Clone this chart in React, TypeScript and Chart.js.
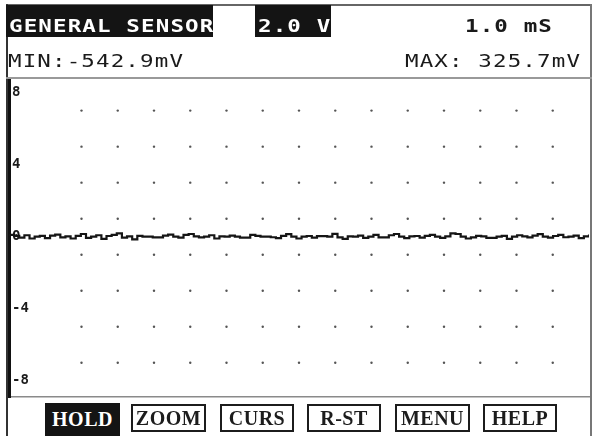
import React, { useEffect, useRef } from "react";
import { Chart, registerables } from "chart.js";

Chart.register(...registerables);

// ---- data ----
const headerTitle = "GENERAL SENSOR";
const voltsPerDiv = "2.0 V";
const timePerDiv = "1.0 mS";
const minLabel = "MIN:-542.9mV";
const maxLabel = "MAX: 325.7mV";
const buttonLabels = ["HOLD", "ZOOM", "CURS", "R-ST", "MENU", "HELP"];

const yTickValues = [8, 4, 0, -4, -8];
const yTickLabels = ["8", "4", "0", "-4", "-8"];
const yMin = -8.9;
const yMax = 8.7;
const xDivisions = 16;

const gridColumns = [2, 3, 4, 5, 6, 7, 8, 9, 10, 11, 12, 13, 14, 15];
const gridRows = [7, 5, 3, 1, -1, -3, -5, -7];

const traceVolts = [
  0.1, 0.05, -0.05, 0.08, -0.1, 0.0, 0.05, -0.08, 0.06, 0.12, -0.04, 0.02,
  -0.1, 0.05, 0.15, -0.06, 0.0, 0.08, -0.12, 0.04, 0.1, 0.18, -0.05, 0.02,
  -0.15, 0.05, 0.0, 0.0, -0.04, -0.04, 0.06, 0.12, 0.0, -0.05, 0.1, 0.15,
  0.02, -0.04, 0.0, 0.08, -0.1, 0.02, 0.0, 0.06, 0.0, -0.05, -0.05, 0.1,
  0.05, 0.0, 0.0, -0.03, -0.08, 0.05, 0.14, 0.0, -0.1, 0.0, 0.04, -0.05,
  0.03, 0.03, 0.0, 0.16, -0.04, -0.12, 0.02, 0.0, 0.06, -0.06, 0.0, 0.1,
  -0.04, -0.04, 0.08, 0.15, 0.0, -0.08, 0.02, 0.04, -0.05, 0.05, 0.1, 0.0,
  -0.06, 0.02, 0.18, 0.15, 0.0, -0.1, -0.04, 0.05, 0.02, -0.06, -0.06, 0.0,
  0.05, -0.12, 0.0, 0.08, 0.02, -0.04, 0.06, 0.14, 0.0, -0.05, 0.04, 0.1,
  -0.03, 0.0, 0.06, -0.08, 0.02, 0.12,
];

const W = 593;
const H = 436;

const monoFont = '"DejaVu Sans Mono", monospace';
const serifFont = '"Liberation Serif", "DejaVu Serif", serif';

export default function App() {
  const canvasRef = useRef<HTMLCanvasElement | null>(null);

  useEffect(() => {
    const canvas = canvasRef.current;
    if (!canvas) return;
    const step = xDivisions / (traceVolts.length - 1);
    const tracePoints = traceVolts.map((v, i) => ({ x: i * step, y: v }));
    const dotPoints: { x: number; y: number }[] = [];
    gridRows.forEach((r) => gridColumns.forEach((c) => dotPoints.push({ x: c, y: r })));

    const chart = new Chart(canvas, {
      type: "scatter",
      data: {
        datasets: [
          {
            label: "grid",
            data: dotPoints,
            showLine: false,
            pointRadius: 1.2,
            pointBorderWidth: 0,
            pointBackgroundColor: "#555",
            order: 2,
          },
          {
            label: "trace",
            data: tracePoints,
            showLine: true,
            stepped: true,
            borderColor: "#151515",
            borderWidth: 2.2,
            pointRadius: 0,
            fill: false,
            order: 1,
          },
        ],
      },
      options: {
        responsive: false,
        animation: false,
        events: [],
        layout: { padding: { left: 3, top: 80, right: 3, bottom: 39 } },
        plugins: { legend: { display: false }, tooltip: { enabled: false } },
        scales: {
          x: {
            type: "linear",
            min: 0,
            max: xDivisions,
            ticks: { display: false },
            grid: { color: "transparent", drawTicks: false },
            border: { display: true, color: "#8a8a8a", width: 1.5 },
          },
          y: {
            type: "linear",
            min: yMin,
            max: yMax,
            afterBuildTicks: (axis: any) => {
              axis.ticks = yTickValues.map((v) => ({ value: v }));
            },
            ticks: {
              mirror: true,
              padding: 3,
              color: "#1a1a1a",
              font: { family: monoFont, size: 14, weight: "bold" },
              callback: (value: any) => {
                const idx = yTickValues.indexOf(Number(value));
                return idx >= 0 ? yTickLabels[idx] : "";
              },
            },
            grid: { color: "transparent", drawTicks: false },
            border: { display: true, color: "#111", width: 3 },
          },
        },
      },
    });
    return () => chart.destroy();
  }, []);

  const abs = (s: React.CSSProperties): React.CSSProperties => ({ position: "absolute", ...s });

  const headerText: React.CSSProperties = {
    fontFamily: monoFont,
    fontSize: 18,
    fontWeight: "bold",
    letterSpacing: "0.9px",
    whiteSpace: "nowrap",
    height: 20,
    lineHeight: "20px",
    transform: "scaleX(1.25)",
    transformOrigin: "left center",
  };

  const buttonLefts = [45, 131, 220, 307, 395, 483];
  const buttonWidths = [75, 75, 74, 74, 75, 74];

  return (
    <div style={abs({ left: 0, top: 0, width: W, height: H, background: "#fff", overflow: "hidden" })}>
      <canvas ref={canvasRef} width={W} height={H} style={abs({ left: 0, top: 0, width: W, height: H })} />
      {/* frame */}
      <div style={abs({ left: 6, top: 4, width: 586, height: 1.5, background: "#666" })} />
      <div style={abs({ left: 6, top: 4, width: 2, height: H - 4, background: "#333" })} />
      <div style={abs({ left: 590, top: 4, width: 1.5, height: H - 4, background: "#777" })} />
      <div style={abs({ left: 6, top: 77, width: 586, height: 1.5, background: "#999" })} />
      {/* header */}
      <div style={abs({ left: 6, top: 5, width: 207, height: 32, background: "#141414" })} />
      <div style={abs({ left: 255, top: 5, width: 76, height: 32, background: "#141414" })} />
      <div style={abs({ ...headerText, left: 9, top: 16, color: "#fff" })}>{headerTitle}</div>
      <div style={abs({ ...headerText, left: 258, top: 16, color: "#fff" })}>{voltsPerDiv}</div>
      <div style={abs({ ...headerText, left: 465, top: 16, color: "#1a1a1a" })}>{timePerDiv}</div>
      <div style={abs({ ...headerText, left: 8, top: 51, color: "#1a1a1a", fontWeight: "normal" })}>{minLabel}</div>
      <div style={abs({ ...headerText, left: 405, top: 51, color: "#1a1a1a", fontWeight: "normal" })}>{maxLabel}</div>
      {/* buttons */}
      {buttonLabels.map((b, i) => {
        const active = i === 0;
        return (
          <div
            key={b}
            style={abs({
              left: buttonLefts[i],
              top: active ? 403 : 404,
              width: buttonWidths[i],
              height: active ? 33 : 28,
              boxSizing: "border-box",
              background: active ? "#141414" : "#fff",
              border: active ? "none" : "2px solid #1c1c1c",
              color: active ? "#fff" : "#1c1c1c",
              fontFamily: serifFont,
              fontWeight: "bold",
              fontSize: 20,
              letterSpacing: "0.5px",
              display: "flex",
              alignItems: "center",
              justifyContent: "center",
            })}
          >
            {b}
          </div>
        );
      })}
    </div>
  );
}
